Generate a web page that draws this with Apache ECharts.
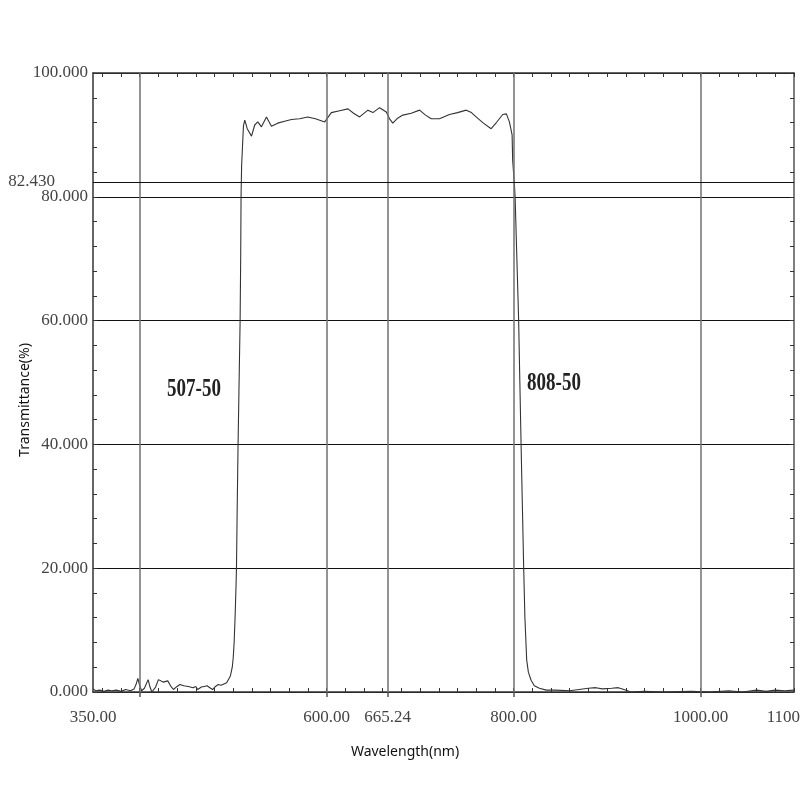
<!DOCTYPE html>
<html>
<head>
<meta charset="utf-8">
<script src="https://cdn.jsdelivr.net/npm/echarts@6/dist/echarts.min.js"></script>
<style>
  html, body { margin: 0; padding: 0; background: #fff; }
  #chart { width: 800px; height: 800px; }
</style>
</head>
<body>
<div id="chart"></div>
<script>
// measured spectrum, wavelength (nm) / transmittance (%)
var wavelength = [
  350, 353, 357, 362, 366, 370, 375, 380, 385, 390, 394, 396, 398, 400, 402, 405, 409, 411, 413, 417,
  420, 422, 425, 427, 430, 433, 436, 440, 443, 447, 452, 457, 460, 462, 466, 469, 472, 475, 478, 481,
  484, 487, 490, 493, 495, 497, 499, 500, 501, 502, 503, 503.5, 504.3, 505.2, 506.3, 507.4, 508, 508.4, 509, 509.9,
  511, 512.4, 515, 519.6, 523, 526.3, 530.2, 535.6, 540.9, 547.6, 555, 562.3, 571, 579.7, 588, 597.9, 605, 613.9, 622.8, 628.8,
  635.3, 644.1, 649.5, 656.6, 663.8, 667.3, 670.8, 675.9, 681.5, 690.5, 699.4, 705.8, 711.9, 720.7, 731.4, 740, 749.3, 754.9, 759.9, 767.7,
  776, 781.6, 788.4, 792.3, 795.5, 797.3, 798.4, 799, 800.9, 801.6, 805.4, 806.7, 808, 809.4, 810.8, 812.1, 814, 815.8, 818.7, 822.2,
  827.6, 835, 845, 860, 870, 880, 888, 895, 905, 912, 918, 922, 925, 940, 960, 990, 1010, 1030, 1045, 1060,
  1070, 1080, 1090, 1100
];
var transmittance = [
  0.5, 0.2, 0.3, 0.1, 0.3, 0.2, 0.3, 0.1, 0.4, 0.2, 0.5, 1.2, 2.2, 1.0, 0.2, 0.6, 2.0, 0.8, 0.0, 0.8,
  2.0, 2.3, 1.6, 1.4, 1.8, 1.0, 0.4, 0.9, 1.2, 1.0, 0.9, 0.7, 0.9, 0.4, 0.8, 0.9, 1.0, 0.7, 0.4, 0.9,
  1.2, 1.1, 1.3, 1.5, 1.8, 2.6, 4.0, 5.5, 8.0, 12, 17, 20, 30, 40, 50, 60, 70, 80, 85, 88,
  91.5, 92.4, 91.0, 89.8, 91.6, 92.1, 91.3, 92.9, 91.4, 91.9, 92.2, 92.5, 92.6, 92.9, 92.6, 92.1, 93.6, 93.9, 94.2, 93.5,
  92.9, 94.0, 93.6, 94.4, 93.7, 92.6, 91.9, 92.7, 93.2, 93.5, 94.0, 93.2, 92.6, 92.6, 93.3, 93.6, 94.0, 93.6, 92.9, 91.9,
  91.0, 92.0, 93.3, 93.4, 92.1, 90.8, 90.0, 85.9, 81.9, 80, 60, 50, 40, 30, 20, 12, 5.2, 3.2, 1.9, 1.0,
  0.6, 0.3, 0.3, 0.2, 0.4, 0.6, 0.7, 0.5, 0.6, 0.7, 0.4, 0.2, 0.0, 0.1, 0.0, 0.1, 0.0, 0.2, 0.0, 0.3,
  0.1, 0.3, 0.2, 0.3
];

var xLabelValues = [350, 600, 665.24, 800, 1000, 1100];
var xGridValues = [400, 600, 665.24, 800, 1000];
var refLevel = 82.43;
var edgeNotes = ['507-50', '808-50'];

// small ticks every 20 nm along top and bottom
var xMinorTicks = [];
for (var t = 360; t <= 1100; t += 20) xMinorTicks.push(t);

var points = wavelength.map(function (w, i) { return [w, transmittance[i]]; });

var labelFont = { color: '#444', fontFamily: 'Liberation Serif', fontSize: 17 };

var chart = echarts.init(document.getElementById('chart'));

var markData = xGridValues.map(function (v) {
  return { xAxis: v, lineStyle: { color: '#707070', width: 1.5, type: 'solid' }, label: { show: false } };
});
markData.push({
  yAxis: refLevel,
  lineStyle: { color: '#111', width: 1.2, type: 'solid' },
  label: {
    show: true,
    position: 'start',
    distance: 38,
    formatter: refLevel.toFixed(3),
    color: '#444',
    fontFamily: 'Liberation Serif',
    fontSize: 17
  }
});

var option = {
  backgroundColor: '#fff',
  animation: false,
  grid: { left: 93, right: 6, top: 73, bottom: 108, containLabel: false, outerBoundsMode: 'none' },
  xAxis: [
    {
      type: 'value', min: 350, max: 1100, position: 'bottom',
      axisLine: { show: true, lineStyle: { color: '#333', width: 1.5 } },
      axisTick: { show: true, customValues: xGridValues, inside: false, length: 5, lineStyle: { color: '#555', width: 1.5 } },
      axisLabel: {
        customValues: xLabelValues,
        margin: 17,
        hideOverlap: false,
        formatter: function (v) { return v.toFixed(2); },
        color: labelFont.color, fontFamily: labelFont.fontFamily, fontSize: labelFont.fontSize
      },
      splitLine: { show: false }
    },
    {
      type: 'value', min: 350, max: 1100, position: 'bottom',
      axisLine: { show: false },
      axisTick: { show: true, customValues: xMinorTicks, inside: true, length: 4, lineStyle: { color: '#333' } },
      axisLabel: { show: false },
      splitLine: { show: false }
    },
    {
      type: 'value', min: 350, max: 1100, position: 'top',
      axisLine: { show: true, lineStyle: { color: '#333', width: 1.5 } },
      axisTick: { show: true, customValues: xMinorTicks, inside: true, length: 4, lineStyle: { color: '#333' } },
      axisLabel: { show: false },
      splitLine: { show: false }
    }
  ],
  yAxis: [
    {
      type: 'value', min: 0, max: 100, interval: 20, position: 'left',
      axisLine: { show: true, lineStyle: { color: '#333', width: 1.5 } },
      axisTick: { show: true, inside: true, length: 4, lineStyle: { color: '#333' } },
      minorTick: { show: true, splitNumber: 5, length: 4, lineStyle: { color: '#333' } },
      axisLabel: {
        margin: 5,
        formatter: function (v) { return v.toFixed(3); },
        color: labelFont.color, fontFamily: labelFont.fontFamily, fontSize: labelFont.fontSize
      },
      splitLine: { show: true, lineStyle: { color: '#111', width: 1.2 } }
    },
    {
      type: 'value', min: 0, max: 100, interval: 20, position: 'right',
      axisLine: { show: true, lineStyle: { color: '#555', width: 1.5 } },
      axisTick: { show: true, inside: true, length: 4, lineStyle: { color: '#333' } },
      minorTick: { show: true, splitNumber: 5, length: 4, lineStyle: { color: '#333' } },
      axisLabel: { show: false },
      splitLine: { show: false }
    }
  ],
  graphic: [
    {
      type: 'text', x: 25, y: 400, rotation: Math.PI / 2,
      style: { text: 'Transmittance(%)', fill: '#111', font: '14px "Noto Sans"', textAlign: 'center', textVerticalAlign: 'middle' }
    },
    {
      type: 'text', x: 405, y: 752,
      style: { text: 'Wavelength(nm)', fill: '#111', font: '14px "Noto Sans"', textAlign: 'center', textVerticalAlign: 'middle' }
    },
    {
      type: 'text', x: 194, y: 390, scaleY: 1.3,
      style: { text: edgeNotes[0], fill: '#222', font: 'bold 19px "Liberation Serif"', textAlign: 'center', textVerticalAlign: 'middle' }
    },
    {
      type: 'text', x: 554, y: 384, scaleY: 1.3,
      style: { text: edgeNotes[1], fill: '#222', font: 'bold 19px "Liberation Serif"', textAlign: 'center', textVerticalAlign: 'middle' }
    }
  ],
  series: [
    {
      type: 'line',
      xAxisIndex: 0,
      yAxisIndex: 0,
      data: points,
      showSymbol: false,
      symbol: 'none',
      lineStyle: { color: '#333', width: 1.1 },
      markLine: {
        silent: true,
        symbol: 'none',
        animation: false,
        data: markData
      },
      z: 3
    }
  ]
};

chart.setOption(option);
</script>
</body>
</html>
